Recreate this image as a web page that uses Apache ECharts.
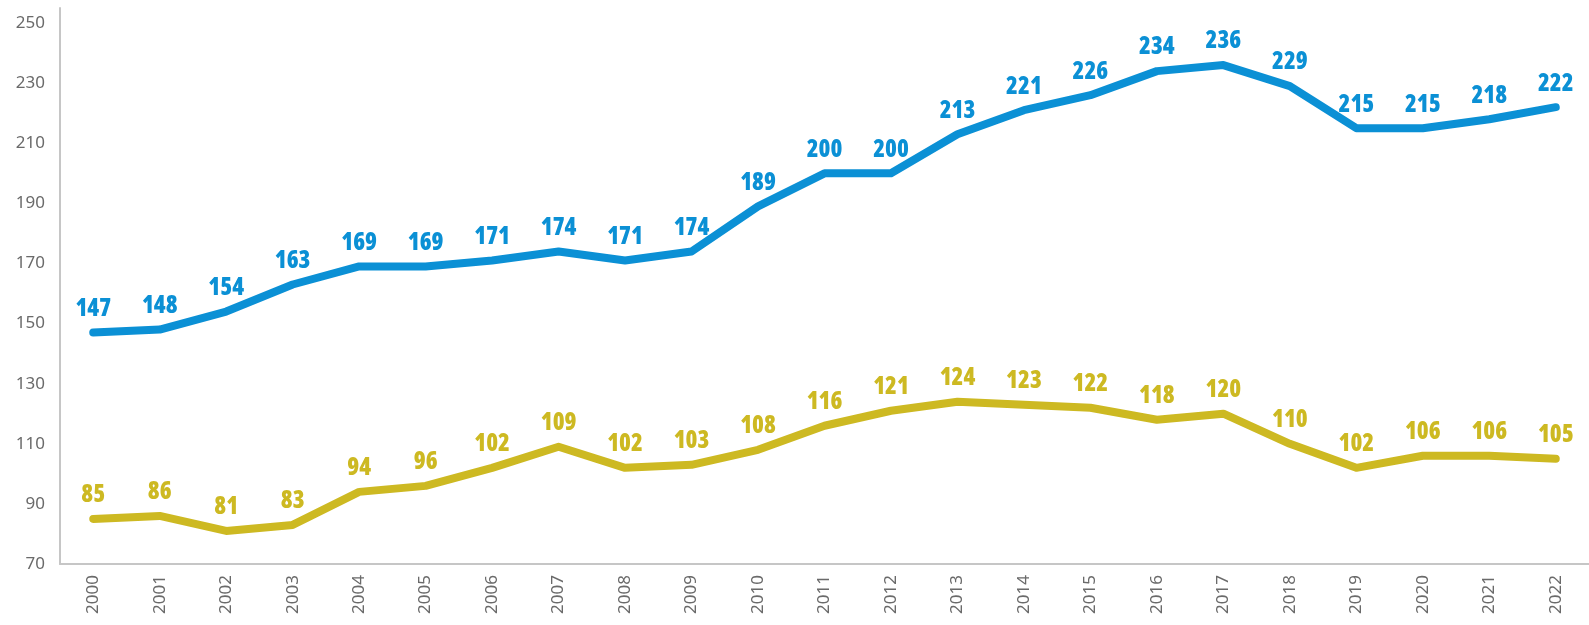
<!DOCTYPE html>
<html>
<head>
<meta charset="utf-8">
<script src="https://cdn.jsdelivr.net/npm/echarts@6/dist/echarts.min.js"></script>
<style>
  html, body { margin: 0; padding: 0; background: #fff; }
  #chart { width: 1589px; height: 625px; }
</style>
</head>
<body>
<div id="chart"></div>
<script>
// Years on the category axis
const years = ['2000','2001','2002','2003','2004','2005','2006','2007','2008','2009','2010',
  '2011','2012','2013','2014','2015','2016','2017','2018','2019','2020','2021','2022'];

// Upper series (blue)
const upperValues = [147,148,154,163,169,169,171,174,171,174,189,200,200,213,221,226,234,236,229,215,215,218,222];

// Lower series (olive yellow)
const lowerValues = [85,86,81,83,94,96,102,109,102,103,108,116,121,124,123,122,118,120,110,102,106,106,105];

// Value axis range and step
const yMin = 70;
const yMax = 255;
const yStep = 20;

const BLUE = '#0b90d5';
const OLIVE = '#cdb922';
const AXIS_TEXT = '#6a6a6a';
const AXIS_LINE = '#c6c6c6';

function lineSeries(name, values, color) {
  return {
    name: name,
    type: 'line',
    data: values,
    showSymbol: true,
    symbol: 'circle',
    symbolSize: 1,
    smooth: false,
    lineStyle: { color: color, width: 8, cap: 'round', join: 'round' },
    itemStyle: { color: color },
    label: {
      show: true,
      position: 'top',
      distance: 11,
      color: color,
      // heavy, condensed width of the variable Open Sans face
      fontFamily: 'Open Sans',
      fontWeight: '800 condensed',
      fontSize: 24
    },
    emphasis: { disabled: true },
    animation: false
  };
}

const chart = echarts.init(document.getElementById('chart'), null, { renderer: 'canvas' });
chart.setOption({
  animation: false,
  grid: { left: 60, right: 0, top: 8, bottom: 61, containLabel: false },
  xAxis: {
    type: 'category',
    data: years,
    boundaryGap: true,
    axisLine: { show: true, lineStyle: { color: AXIS_LINE, width: 2 } },
    axisTick: { show: false },
    axisLabel: {
      rotate: 90,
      margin: 11,
      color: AXIS_TEXT,
      fontFamily: 'Noto Sans',
      fontSize: 17,
      interval: 0
    },
    splitLine: { show: false }
  },
  yAxis: {
    type: 'value',
    min: yMin,
    max: yMax,
    interval: yStep,
    axisLine: { show: true, lineStyle: { color: AXIS_LINE, width: 2 } },
    axisTick: { show: false },
    axisLabel: {
      showMaxLabel: false,
      margin: 15,
      color: AXIS_TEXT,
      fontFamily: 'Noto Sans',
      fontSize: 17
    },
    splitLine: { show: false }
  },
  series: [
    lineSeries('upper', upperValues, BLUE),
    lineSeries('lower', lowerValues, OLIVE)
  ]
});
</script>
</body>
</html>
